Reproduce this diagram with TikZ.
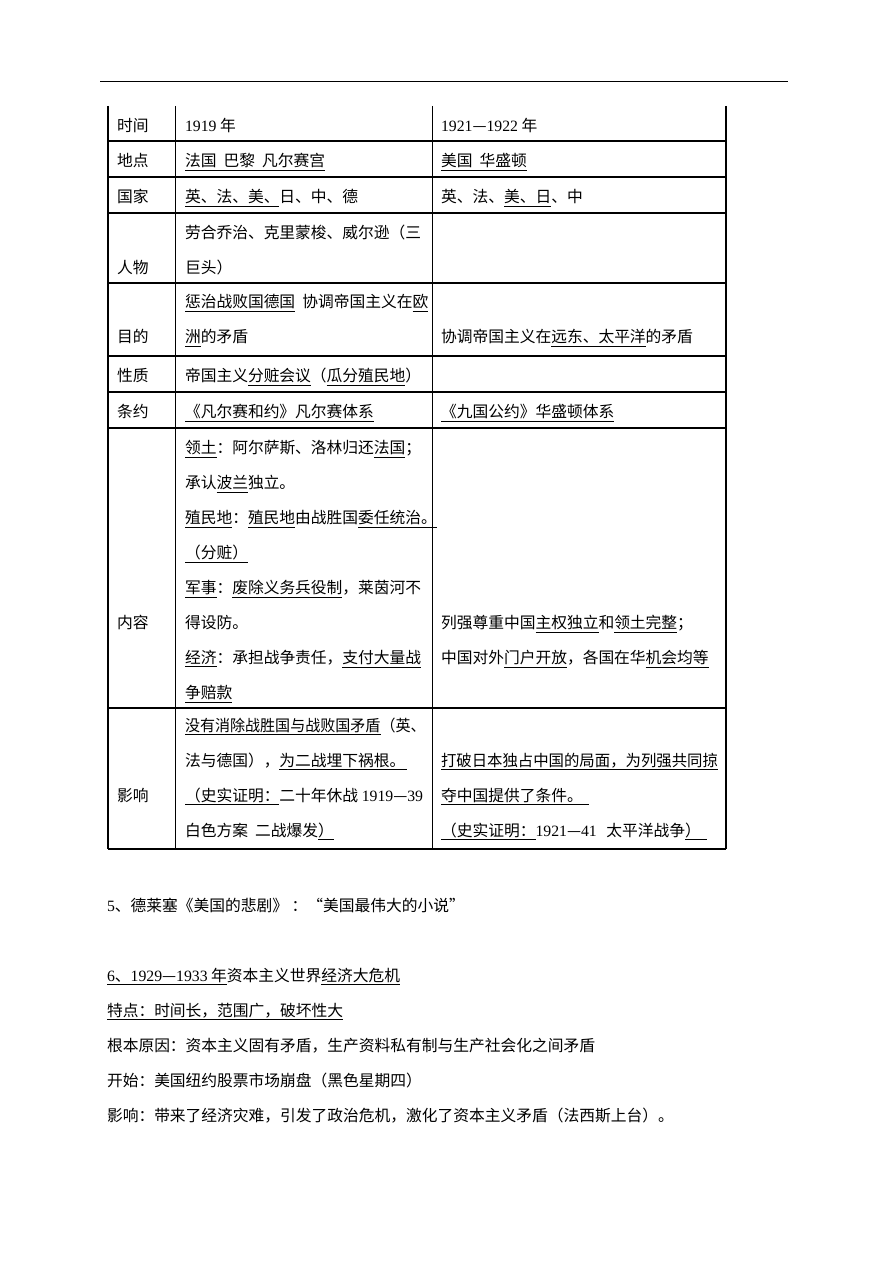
\documentclass[tikz,border=0pt]{standalone}
\usepackage{fontspec}
\setmainfont{Liberation Serif}
\newfontfamily\cjk{Noto Sans CJK SC}
\newcommand\dg[1]{{\rmfamily #1}}
\newcommand\un[1]{\underline{#1}}
\newcommand\gapsp{\hspace{0.45em}}
\begin{document}
\begin{tikzpicture}[x=0.6667pt,y=-0.6667pt,
  t/.style={anchor=base west,inner sep=0pt,outer sep=0pt,font=\cjk\fontsize{10.5}{12}\selectfont},
  grid/.style={line width=0.7pt,black}]
\useasboundingbox (0,0) rectangle (892,1262);
% header rule
\coordinate (hl) at (100,81.5);
\coordinate (hr) at (788,81.5);
\draw[grid] (hl) -- (hr);
% table grid
\foreach \x in {108,175.5,432.5,726} \draw[grid] (\x,106) -- (\x,849);
\foreach \y in {141,177,213,283,356,392,428,708,849} \draw[grid] (108,\y) -- (726,\y);
% row 1
\node[t] (a0) at (117,131.5) {时间};
\node[t] (a1) at (185,131.5) {\dg{1919} 年};
\node[t] (a2) at (441,131.5) {\dg{1921}—\dg{1922} 年};
% row 2
\node[t] (b0) at (117,166.5) {地点};
\node[t] (b1) at (185,166.5) {\un{法国\gapsp 巴黎\gapsp 凡尔赛宫}};
\node[t] (b2) at (441,166.5) {\un{美国\gapsp 华盛顿}};
% row 3
\node[t] (c0) at (117,202.5) {国家};
\node[t] (c1) at (185,202.5) {\un{英、法、美、}日、中、德};
\node[t] (c2) at (441,202.5) {英、法、\un{美、日}、中};
% row 4
\node[t] (d0) at (117,273.5) {人物};
\node[t] (d1) at (185,238.5) {劳合乔治、克里蒙梭、威尔逊（三};
\node[t] (d1b) at (185,273.5) {巨头）};
% row 5
\node[t] (e0) at (117,343) {目的};
\node[t] (e1) at (185,307.5) {\un{惩治战败国德国}\gapsp 协调帝国主义在\un{欧}};
\node[t] (e1b) at (185,343) {\un{洲}的矛盾};
\node[t] (e2) at (441,343) {协调帝国主义在\un{远东、太平洋}的矛盾};
% row 6
\node[t] (f0) at (117,381.5) {性质};
\node[t] (f1) at (185,381.5) {帝国主义\un{分赃会议}（\un{瓜分殖民地}）};
% row 7
\node[t] (g0) at (117,417.5) {条约};
\node[t] (g1) at (185,417.5) {\un{《凡尔赛和约》凡尔赛体系}};
\node[t] (g2) at (441,417.5) {\un{《九国公约》华盛顿体系}};
% row 8
\node[t] (h0) at (117,628.5) {内容};
\node[t] (h1) at (185,453.5) {\un{领土}：阿尔萨斯、洛林归还\un{法国}；};
\node[t] (h2) at (185,488.5) {承认\un{波兰}独立。};
\node[t] (h3) at (185,523.5) {\un{殖民地}：\un{殖民地}由战胜国\un{委任统治。}};
\node[t] (h4) at (185,558.5) {\un{（分赃）}};
\node[t] (h5) at (185,593.5) {\un{军事}：\un{废除义务兵役制}，莱茵河不};
\node[t] (h6) at (185,628.5) {得设防。};
\node[t] (h7) at (185,663.5) {\un{经济}：承担战争责任，\un{支付大量战}};
\node[t] (h8) at (185,698.5) {\un{争赔款}};
\node[t] (h9) at (441,628.5) {列强尊重中国\un{主权独立}和\un{领土完整}；};
\node[t] (h10) at (441,663.5) {中国对外\un{门户开放}，各国在华\un{机会均等}};
% row 9
\node[t] (k0) at (117,801) {影响};
\node[t] (k1) at (185,731) {\scalebox{0.955}[1]{\un{没有消除战胜国与战败国矛盾}（英、}};
\node[t] (k2) at (185,766) {法与德国），\un{为二战埋下祸根。\hspace*{1pt}}};
\node[t] (k3) at (185,801) {\un{（史实证明：}二十年休战 \dg{1919}—\dg{39}};
\node[t] (k4) at (185,836) {白色方案\gapsp 二战爆发\un{）}};
\node[t] (k5) at (441,766) {\scalebox{0.977}[1]{\un{打破日本独占中国的局面，为列强共同掠}}};
\node[t] (k6) at (441,801) {\un{夺中国提供了条件。\hspace*{4pt}}};
\node[t] (k7) at (441,836) {\un{（史实证明：}\dg{1921}—\dg{41}\hspace{4pt} 太平洋战争\un{）\hspace*{4pt}}};
% text below
\node[t] (p5) at (107,911) {\dg{5}、德莱塞《美国的悲剧》 ：“美国最伟大的小说”};
\node[t] (p6) at (107,981) {\un{\dg{6}、\dg{1929}—\dg{1933} 年}资本主义世界\un{经济大危机}};
\node[t] (p7) at (107,1016) {\un{特点：时间长，范围广，破坏性大}};
\node[t] (p8) at (107,1051) {根本原因：资本主义固有矛盾，生产资料私有制与生产社会化之间矛盾};
\node[t] (p9) at (107,1086) {开始：美国纽约股票市场崩盘（黑色星期四）};
\node[t] (p10) at (107,1121) {影响：带来了经济灾难，引发了政治危机，激化了资本主义矛盾（法西斯上台）。};
\end{tikzpicture}
\end{document}
